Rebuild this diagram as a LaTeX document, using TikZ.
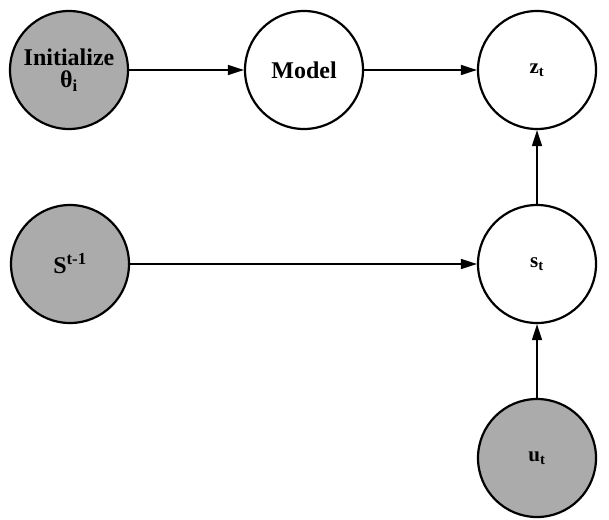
\documentclass[tikz,border=0pt]{standalone}
\usepackage{fontspec}
\setmainfont{Liberation Serif}
\usetikzlibrary{arrows.meta}
\begin{document}
\begin{tikzpicture}[x=1pt,y=-1pt,
  vnode/.style={circle,draw=black,line width=2.2pt,minimum size=118pt,inner sep=0pt,align=center,font=\fontsize{24}{24}\selectfont\bfseries},
  smalltext/.style={font=\fontsize{21}{21}\selectfont\bfseries},
  obs/.style={vnode,fill=black!33},
  hid/.style={vnode,fill=white},
  conn/.style={line width=1.4pt,-{Triangle[length=16pt,width=10pt]}}]
\useasboundingbox (0,0) rectangle (609,519);
\node[obs] (init) at (69,70) {Initialize\\[-2pt]θ\textsubscript{i}};
\node[hid] (model) at (304,70) {Model};
\node[hid,smalltext] (z) at (537,70) {z\textsubscript{t}};
\node[obs] (sprev) at (70,264) {S\textsuperscript{t-1}};
\node[hid,smalltext] (s) at (537,264) {s\textsubscript{t}};
\node[obs,smalltext] (u) at (537,458) {u\textsubscript{t}};
\draw[conn] (init) -- (model);
\draw[conn] (model) -- (z);
\draw[conn] (sprev) -- (s);
\draw[conn] (s) -- (z);
\draw[conn] (u) -- (s);
\end{tikzpicture}
\end{document}
